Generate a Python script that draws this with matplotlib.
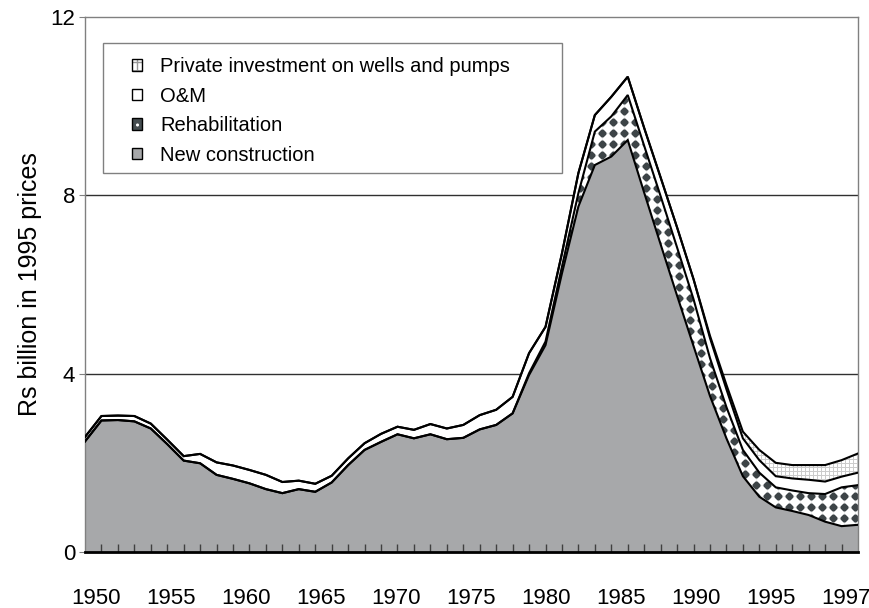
import numpy as np
import matplotlib
matplotlib.use('Agg')
import matplotlib.pyplot as plt
from matplotlib.patches import Patch, Rectangle
from matplotlib.legend_handler import HandlerTuple

plt.rcParams['font.family'] = ['Liberation Sans', 'DejaVu Sans']

years = np.arange(1950, 1998)

# Rs billion in 1995 prices
new_construction = [2.48, 2.95, 2.96, 2.93, 2.77, 2.42, 2.05, 1.99, 1.73, 1.64,
                    1.54, 1.41, 1.32, 1.41, 1.35, 1.56, 1.95, 2.29, 2.47, 2.64,
                    2.55, 2.64, 2.53, 2.56, 2.75, 2.85, 3.11, 3.97, 4.64, 6.25,
                    7.75, 8.68, 8.87, 9.24, 8.06, 6.90, 5.75, 4.62, 3.50, 2.55,
                    1.70, 1.24, 1.00, 0.92, 0.83, 0.68, 0.58, 0.61]
rehabilitation = [0] * 27 + [0.04, 0.08, 0.15, 0.30, 0.75, 0.90, 1.01, 1.05, 1.08,
                             1.08, 1.05, 0.85, 0.70, 0.59, 0.54, 0.45, 0.46, 0.49,
                             0.62, 0.87, 0.89]
om = [0.10, 0.10, 0.10, 0.12, 0.11, 0.10, 0.10, 0.21, 0.28, 0.30,
      0.30, 0.32, 0.25, 0.19, 0.18, 0.15, 0.15, 0.15, 0.18, 0.17,
      0.19, 0.23, 0.24, 0.29, 0.32, 0.34, 0.37, 0.45, 0.33, 0.30,
      0.45, 0.37, 0.44, 0.41, 0.40, 0.42, 0.45, 0.45, 0.45, 0.40,
      0.26, 0.28, 0.25, 0.27, 0.30, 0.28, 0.24, 0.28]
private = [0] * 38 + [0.05, 0.10, 0.15, 0.23, 0.30, 0.30, 0.33, 0.37, 0.37, 0.43]

x_labels = ['1950', '1955', '1960', '1965', '1970', '1975',
            '1980', '1985', '1990', '1995', '1997']

labels = ['Private investment on wells and pumps', 'O&M',
          'Rehabilitation', 'New construction']

gray = '#a7a8aa'
dark = np.array([0.24, 0.27, 0.28])

s1 = np.array(new_construction)
s2 = s1 + np.array(rehabilitation)
s3 = s2 + np.array(om)
s4 = s3 + np.array(private)

fig = plt.figure(figsize=(8.7, 6.08), dpi=100)
ax = fig.add_axes([85 / 870, 56 / 608, 773 / 870, 535 / 608])

# pattern images (one pixel per screen pixel)
nx, ny = 773, 535
gx, gy = np.meshgrid(np.arange(nx), np.arange(ny))
p = 11.0
f = np.cos(2 * np.pi * gx / p) + np.cos(2 * np.pi * gy / p)
d = np.clip((f - 0.3) * 1.6 + 0.5, 0, 1)[..., None]
checker = (1 - d) * np.ones(3) + d * dark
grid = np.ones((ny, nx, 3))
grid[(gx % 4 == 0) | (gy % 4 == 0)] = 0.8


def pattern_fill(lower, upper, img):
    poly = ax.fill_between(years, lower, upper, facecolor='none', edgecolor='none')
    im = ax.imshow(img, extent=[1950, 1997, 0, 12], origin='lower',
                   aspect='auto', interpolation='nearest', zorder=1)
    im.set_clip_path(poly.get_paths()[0], transform=ax.transData)


ax.fill_between(years, 0, s1, facecolor=gray, edgecolor='none', zorder=1)
pattern_fill(s1, s2, checker)
ax.fill_between(years, s2, s3, facecolor='white', edgecolor='none', zorder=1)
pattern_fill(s3, s4, grid)

for s in (s1, s2, s3, s4):
    ax.plot(years, s, color='black', lw=1.5, zorder=3, solid_joinstyle='miter')

for v in (4, 8):
    ax.axhline(v, color='#303030', lw=1, zorder=0.5)

ax.set_xlim(1950, 1997)
ax.set_ylim(0, 12)
ax.set_yticks([0, 4, 8, 12])

ax.set_xticks(np.linspace(1950.67, 1996.27, 11))
ax.set_xticklabels(x_labels)
ax.set_xticks(years[1:-1], minor=True)
ax.tick_params(axis='x', which='major', length=0, pad=26, labelsize=16)
ax.tick_params(axis='x', which='minor', direction='in', length=6, width=1,
               color='#404040')
ax.tick_params(axis='y', length=4, color='#808080', pad=3, labelsize=16)

for side in ('left', 'top', 'right'):
    ax.spines[side].set_color('#808080')
    ax.spines[side].set_linewidth(1)
ax.spines['bottom'].set_color('black')
ax.spines['bottom'].set_linewidth(2)
ax.spines['bottom'].set_zorder(4)

ax.set_ylabel('Rs billion in 1995 prices', fontsize=18)
ax.yaxis.set_label_coords(-0.056, 0.5)

# legend box
ax.add_patch(Rectangle((0.0237, 0.709), 0.5934, 0.2419, transform=ax.transAxes,
                       facecolor='white', edgecolor='#808080', lw=1, zorder=5))
border = Patch(facecolor='none', edgecolor='black', lw=1)
handles = [(Patch(facecolor='white', edgecolor='#999999', hatch='++', lw=0), border),
           Patch(facecolor='white', edgecolor='black', lw=1),
           (Patch(facecolor='#454d50', edgecolor='white', hatch='..', lw=0), border),
           Patch(facecolor=gray, edgecolor='black', lw=1)]
leg = ax.legend(handles, labels, loc='upper left', bbox_to_anchor=(0.0604, 0.925),
                frameon=False, fontsize=14.5, borderpad=0, borderaxespad=0,
                handlelength=0.5, handleheight=0.5, handletextpad=0.9,
                labelspacing=0.52,
                handler_map={tuple: HandlerTuple(ndivide=1, pad=0)})
leg.set_zorder(6)

fig.savefig('out.png', dpi=100)
